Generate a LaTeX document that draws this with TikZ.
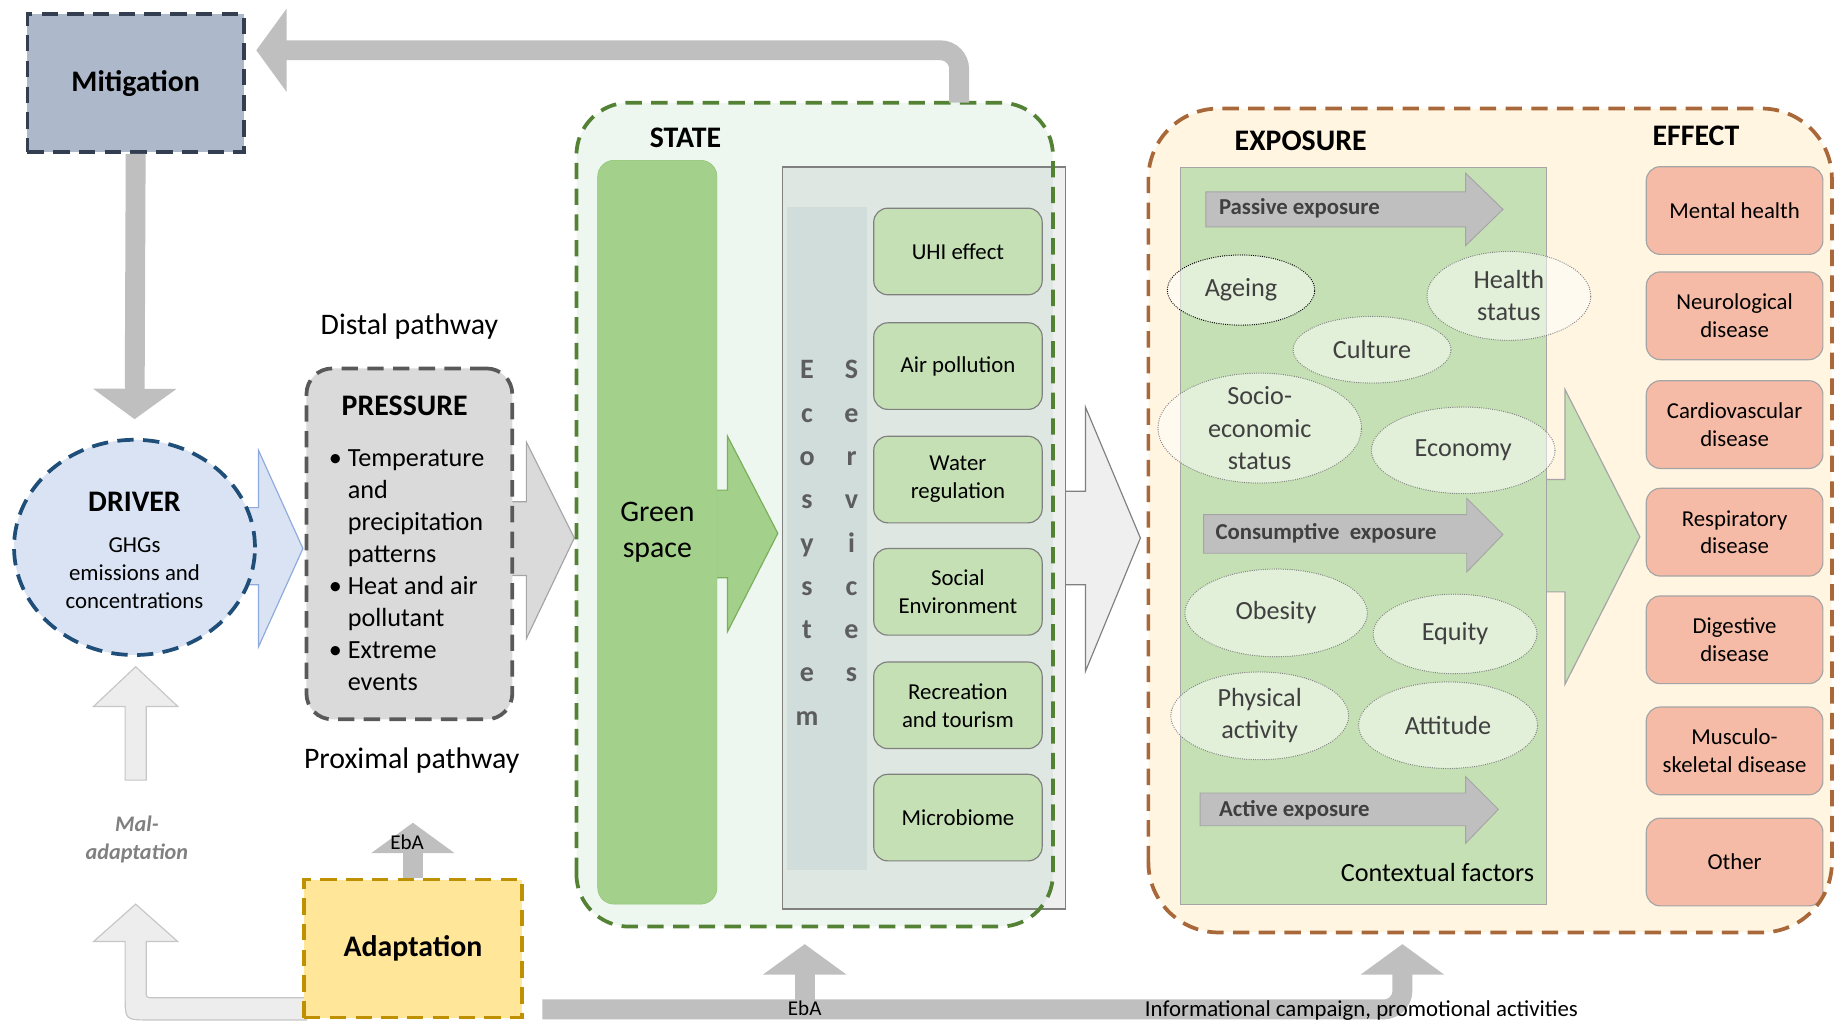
\documentclass[tikz,border=0pt]{standalone}
\usepackage{fontspec}
\setmainfont{Carlito}
\usepackage{tikz}
\usetikzlibrary{shapes.geometric,arrows.meta}

\definecolor{mitfill}{HTML}{ADB9CA}
\definecolor{mitline}{HTML}{333F50}
\definecolor{drvfill}{HTML}{DAE3F3}
\definecolor{drvline}{HTML}{1F4E79}
\definecolor{drvarrow}{HTML}{8FAADC}
\definecolor{presfill}{HTML}{DADADA}
\definecolor{presline}{HTML}{595959}
\definecolor{adpfill}{HTML}{FFE699}
\definecolor{adpline}{HTML}{BF9000}
\definecolor{flowgray}{HTML}{BFBFBF}
\definecolor{statefill}{HTML}{EDF6EF}
\definecolor{stateline}{HTML}{548235}
\definecolor{gsfill}{HTML}{A3D18C}
\definecolor{gsline}{HTML}{8CC26E}
\definecolor{gsarrow}{HTML}{7AAE5A}
\definecolor{ecofill}{HTML}{EFEFEF}
\definecolor{ecoin}{HTML}{DEE7E1}
\definecolor{stripfill}{HTML}{D0DDDB}
\definecolor{servfill}{HTML}{C5E0B4}
\definecolor{expofill}{HTML}{FFF5E1}
\definecolor{expoline}{HTML}{A9683A}
\definecolor{effill}{HTML}{F6BBA6}
\definecolor{boxline}{HTML}{A5A5A5}
\definecolor{txtgray}{HTML}{404040}

\begin{document}
\begin{tikzpicture}[x=1pt, y=-1pt,
  ttl/.style={font=\fontsize{25.5}{31}\selectfont\bfseries},
  lbl/.style={font=\fontsize{19.5}{23.8}\selectfont, align=center},
  midtxt/.style={font=\fontsize{22.4}{27.4}\selectfont, align=center},
  dashbox/.style={line width=3.2pt, dash pattern=on 14pt off 8pt},
  service/.style={lbl, draw=gray, fill=servfill, rounded corners=12pt, minimum width=144pt, minimum height=74pt, line width=1pt},
  effect/.style={lbl, draw=boxline, fill=effill, rounded corners=12pt, minimum width=151pt, minimum height=75pt, line width=1pt},
  factor/.style={midtxt, ellipse, draw=gray, line width=1.1pt, line cap=round, dash pattern=on 0pt off 1.9pt, fill=white, fill opacity=0.5, text opacity=1, text=txtgray, inner sep=-12pt},
  eletter/.style={font=\fontsize{24}{28}\selectfont\bfseries, text=txtgray!85!white, anchor=base},
  exparrow/.style={fill=flowgray, draw=boxline, line width=0.8pt},
  explbl/.style={font=\fontsize{19.5}{23.8}\selectfont\bfseries, text=txtgray, anchor=west, inner sep=0pt},
  malarrow/.style={fill=gray!14, draw=gray!45, line width=1pt},
  flow/.style={draw=flowgray, line width=17pt, -{Triangle[width=70pt,length=26pt]}}
]
\useasboundingbox (0,0) rectangle (1568,875);

\node[fill=statefill, rounded corners=45pt, minimum width=407pt, minimum height=704pt] (state) at (696.5,440) {};
\node[fill=expofill, rounded corners=60pt, minimum width=584pt, minimum height=704pt] (expo) at (1274,445) {};

\filldraw[fill=drvfill, draw=drvarrow, line width=1pt] (150,434) -- (221,434) -- (221,385) -- (259,469) -- (221,553) -- (221,500) -- (150,500) -- cycle;
\filldraw[fill=presfill, draw=boxline, line width=1pt] (400,429) -- (450,429) -- (450,378) -- (491,460) -- (450,546) -- (450,492) -- (400,492) -- cycle;
\filldraw[fill=gsfill, draw=gsarrow, line width=1pt] (590,419) -- (622,419) -- (622,373) -- (665,456) -- (622,540) -- (622,494) -- (590,494) -- cycle;
\filldraw[fill=ecofill, draw=gray, line width=1pt] (880,420) -- (928,420) -- (928,348) -- (975,460) -- (928,574) -- (928,500) -- (880,500) -- cycle;
\filldraw[fill=servfill, draw=boxline, line width=1pt] (1300,410) -- (1338,410) -- (1338,333) -- (1402,459) -- (1338,585) -- (1338,506) -- (1300,506) -- cycle;
\filldraw[malarrow] (107,667) -- (107,604) -- (80,604) -- (116,570) -- (152,604) -- (125,604) -- (125,667) -- cycle;
\filldraw[malarrow] (262,853) -- (131,853) .. controls (125,853) .. (125,847) -- (125,805) -- (152,805) -- (116,773) -- (80,805) -- (107,805) -- (107,852) .. controls (107,872) .. (127,872) -- (262,872) -- cycle;

\node[ttl, fill=mitfill, draw=mitline, dashbox, minimum width=185pt, minimum height=118pt] (mit) at (116,71) {Mitigation};
\node[ellipse, fill=drvfill, draw=drvline, dashbox, minimum width=206pt, minimum height=184pt] (drv) at (115,468) {};
\node[ttl] (drvtitle) at (115,429) {DRIVER};
\node[lbl] (drvtext) at (115,490) {GHGs\\emissions and\\concentrations};

\node[fill=presfill, draw=presline, dashbox, rounded corners=22pt, minimum width=176pt, minimum height=300pt] (pres) at (350,465) {};
\node[ttl] (prestitle) at (346,347) {PRESSURE};
\node[anchor=west, inner sep=0pt, font=\fontsize{22.4}{27.4}\selectfont] (preslist) at (281,489) {\begin{tabular}{@{}l@{\hspace{5pt}}l@{}}
•&Temperature\\&and\\&precipitation\\&patterns\\•&Heat and air\\&pollutant\\•&Extreme\\&events\end{tabular}};
\node[font=\fontsize{25.5}{31}\selectfont] (distal) at (350,279) {Distal pathway};
\node[font=\fontsize{25.5}{31}\selectfont] (proximal) at (352,650) {Proximal pathway};

\node[ttl, fill=adpfill, draw=adpline, dashbox, minimum width=186pt, minimum height=118pt] (adp) at (353,811) {Adaptation};
\node[font=\fontsize{19}{24}\selectfont\bfseries\itshape, text=gray, align=center] (mal) at (117,718) {Mal-\\adaptation};

\node[ttl] (statetitle) at (586,118) {STATE};
\node[fill=gsfill, draw=gsline, rounded corners=14pt, minimum width=102pt, minimum height=636pt, font=\fontsize{25.5}{31}\selectfont, align=center] (gs) at (562,455) {Green\\space};
\node[fill=ecofill, minimum width=242pt, minimum height=634pt] (eco) at (790,460) {};
\begin{scope}
\clip[rounded corners=45pt] (state.south west) rectangle (state.north east);
\fill[ecoin] (eco.south west) rectangle (eco.north east);
\end{scope}
\draw[gray, line width=1pt] (eco.south west) rectangle (eco.north east);
\node[fill=stripfill, minimum width=68pt, minimum height=567pt] (strip) at (707,460.5) {};
\foreach \l [count=\i] in {E,c,o,s,y,s,t,e,m} \node[eletter] (ecol\i) at (690,287+37*\i) {\l};
\foreach \l [count=\i] in {S,e,r,v,i,c,e,s} \node[eletter] (serl\i) at (728,287+37*\i) {\l};
\foreach \y/\t [count=\i] in {215/UHI effect, 313/Air pollution, 410/Water\\regulation, 506/Social\\Environment, 603/Recreation\\and tourism, 699/Microbiome}
  \node[service] (svc\i) at (819,\y) {\t};

\node[ttl] (expotitle) at (1112,120) {EXPOSURE};
\node[ttl] (efftitle) at (1450,116) {EFFECT};
\node[fill=servfill, draw=boxline, line width=1pt, minimum width=313pt, minimum height=630pt] (ctx) at (1165.5,458) {};
\filldraw[exparrow] (1031,164) -- (1253,164) -- (1253,148) -- (1285,179) -- (1253,210) -- (1253,194) -- (1031,194) -- cycle;
\filldraw[exparrow] (1029,440) -- (1254,440) -- (1254,426) -- (1285,457) -- (1254,489) -- (1254,473) -- (1029,473) -- cycle;
\filldraw[exparrow] (1026,678) -- (1253,678) -- (1253,664) -- (1281,692) -- (1253,721) -- (1253,706) -- (1026,706) -- cycle;
\node[explbl] (passive) at (1042,178) {Passive exposure};
\node[explbl] (consump) at (1039,456) {Consumptive\ \ exposure};
\node[explbl] (active) at (1042,693) {Active exposure};

\node[factor, draw=black, minimum width=126pt, minimum height=60pt] (ageing) at (1061,248) {Ageing};
\node[factor, minimum width=140pt, minimum height=76pt] (health) at (1290,253) {Health\\status};
\node[factor, minimum width=135pt, minimum height=57pt] (culture) at (1173,299) {Culture};
\node[factor, minimum width=174pt, minimum height=94pt] (socio) at (1077,366) {Socio-\\economic\\status};
\node[factor, minimum width=157pt, minimum height=74pt] (economy) at (1251,385) {Economy};
\node[factor, minimum width=156pt, minimum height=75pt] (obesity) at (1091,524) {Obesity};
\node[factor, minimum width=140pt, minimum height=68pt] (equity) at (1244,542) {Equity};
\node[factor, minimum width=152pt, minimum height=75pt] (physical) at (1077,612) {Physical\\activity};
\node[factor, minimum width=153pt, minimum height=74pt] (attitude) at (1238,620) {Attitude};
\node[midtxt] (ctxlabel) at (1229,746) {Contextual factors};

\foreach \y/\t [count=\i] in {180/Mental health, 270/Neurological\\disease, 363/Cardiovascular\\disease, 455/Respiratory\\disease, 547/Digestive\\disease, 642/Musculo-\\skeletal disease, 737/Other}
  \node[effect] (eff\i) at (1483,\y) {\t};

\draw[stateline, dashbox, rounded corners=45pt] (state.south west) rectangle (state.north east);
\draw[expoline, dashbox, rounded corners=60pt] (expo.south west) rectangle (expo.north east);

\draw[flow, rounded corners=16pt] ([xshift=123.5pt]state.north) |- ([xshift=9pt,yshift=28pt]mit.east);
\draw[flow, shorten >=16pt] (mit.south) -- (drv.north);
\draw[flow] (adp.north) -- ([yshift=47pt]adp.north);
\node[font=\fontsize{18}{22}\selectfont] (eba1) at (348,720) {EbA};
\coordinate (base) at ([xshift=16pt,yshift=-52pt]adp.east);
\coordinate (ebatop) at ([xshift=-8.5pt]state.south);
\coordinate (infotop) at ([xshift=-75pt]expo.south);
\draw[flow, rounded corners=16pt, shorten >=10pt] (base) -| (infotop);
\draw[flow, shorten >=15pt] (ebatop |- base) -- (ebatop);
\node[font=\fontsize{18}{22}\selectfont] (eba2) at (688,862) {EbA};
\node[lbl] (info) at (1164,864) {Informational campaign, promotional activities};
\end{tikzpicture}
\end{document}
